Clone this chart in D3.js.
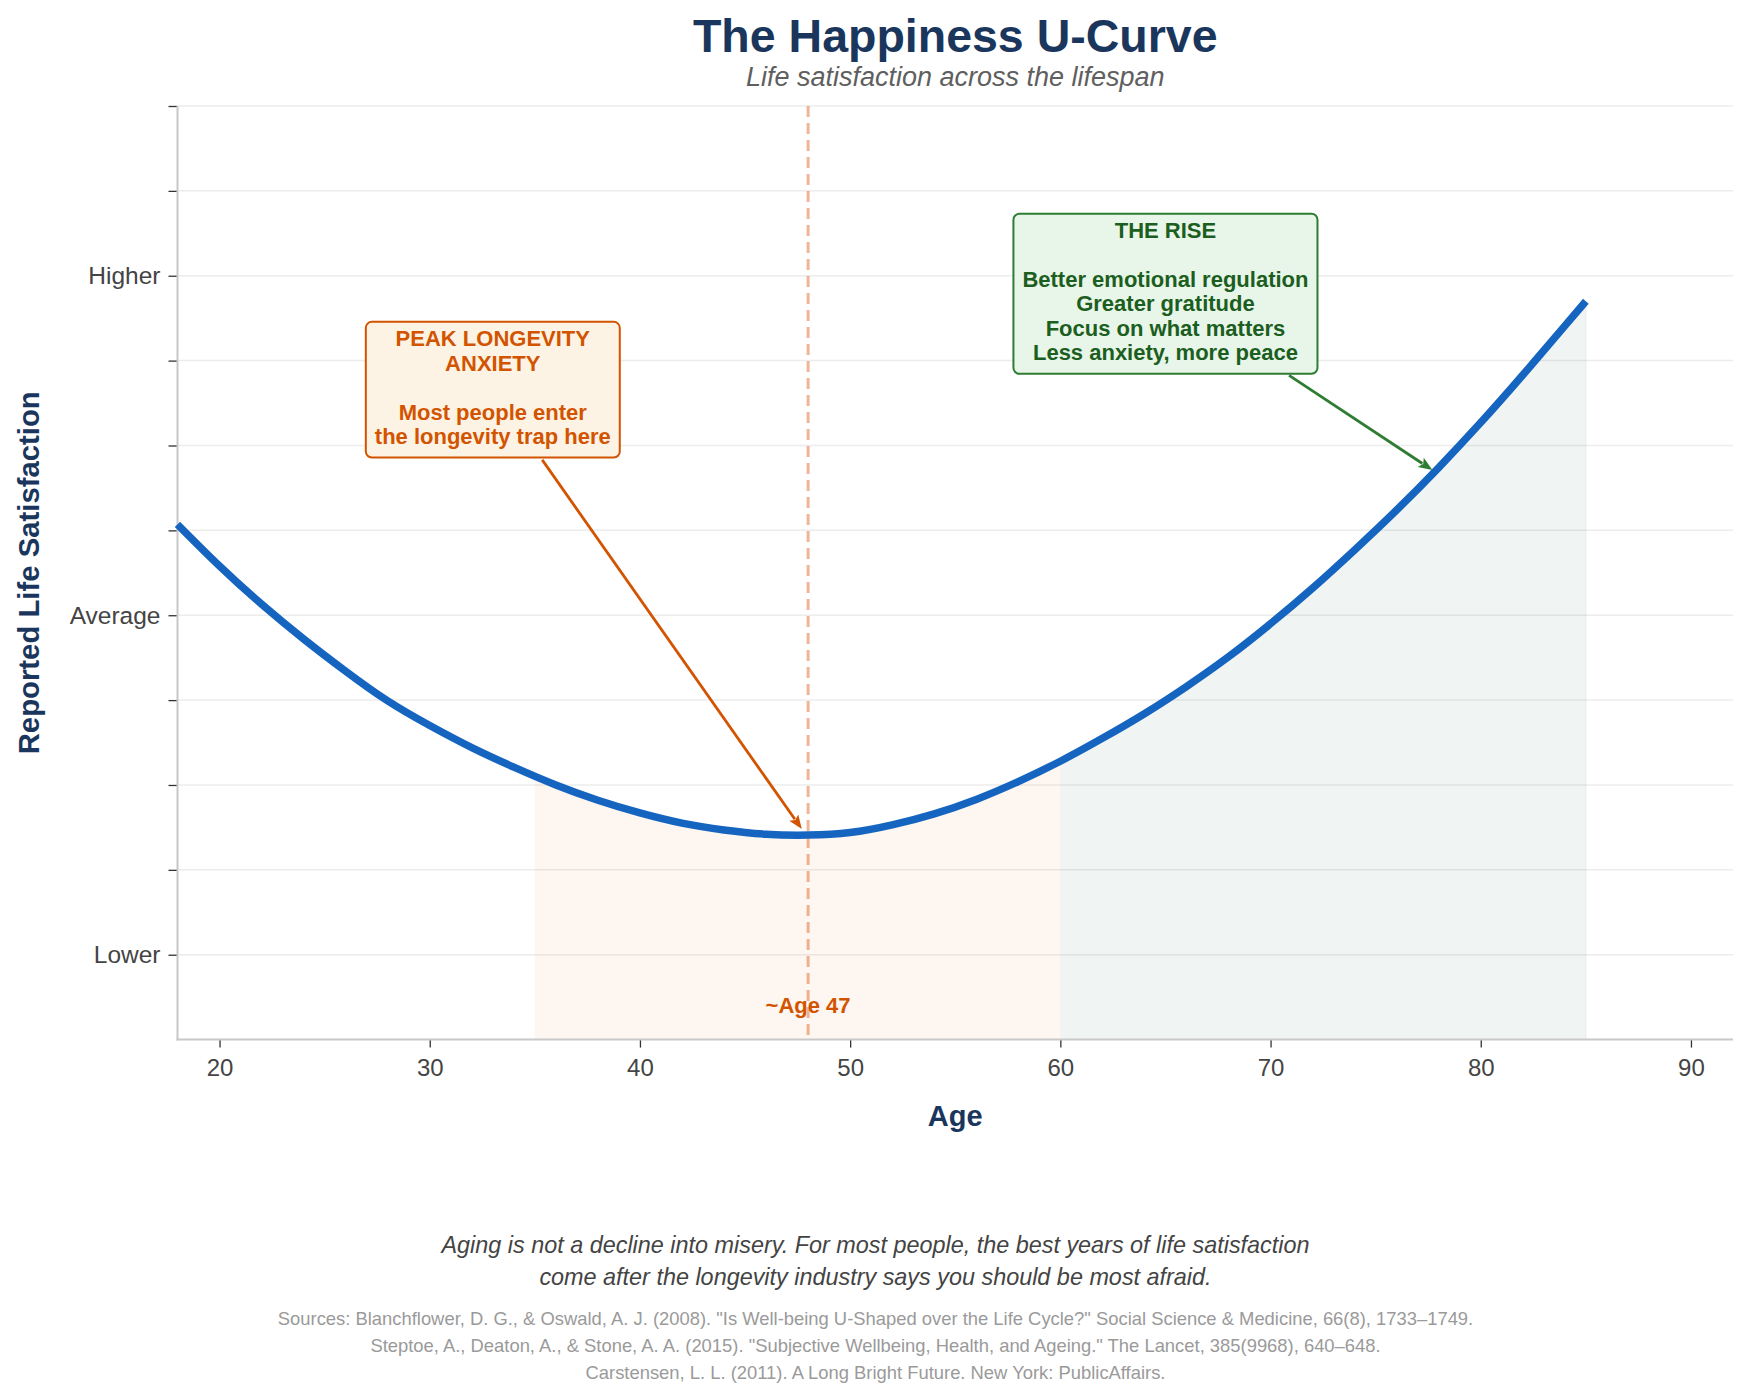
<!DOCTYPE html>
<html>
<head>
<meta charset="utf-8">
<script src="https://cdn.jsdelivr.net/npm/d3@7"></script>
<style>
  body { margin: 0; background: #ffffff; }
  svg { display: block; }
  text { font-family: "Liberation Sans", Arial, Helvetica, sans-serif; }
</style>
</head>
<body>
<svg id="chart" width="1751" height="1400"></svg>
<script>
// ---------------- DATA ----------------
const ages = [18, 20, 22, 24, 26, 28, 30, 32, 34, 36, 38, 40, 42, 44, 46, 48, 50, 52, 54, 56, 58, 60, 62, 64, 66, 68, 70, 72, 74, 76, 78, 80, 82, 84, 85];
const satisfaction = [6.07, 5.58, 5.13, 4.72, 4.34, 3.99, 3.70, 3.44, 3.21, 3.00, 2.82, 2.67, 2.55, 2.47, 2.42, 2.41, 2.44, 2.53, 2.66, 2.83, 3.04, 3.28, 3.55, 3.84, 4.16, 4.51, 4.90, 5.32, 5.77, 6.24, 6.74, 7.27, 7.83, 8.41, 8.70];

const xTicks = [20, 30, 40, 50, 60, 70, 80, 90];
const yTicks = [1, 2, 3, 4, 5, 6, 7, 8, 9, 10, 11];
const yTickLabelValues = [1, 5, 9];
const yTickLabelTexts = ["Lower", "Average", "Higher"];

const anxietyBand = [35, 60];
const riseBand = [60, 85];
const troughAge = 48;
const troughLabel = "~Age 47";

const anxietyLines = ["PEAK LONGEVITY", "ANXIETY", "", "Most people enter", "the longevity trap here"];
const anxietyTextAt = [33, 7.66];
const anxietyPointAt = [47.7, 2.48];

const riseLines = ["THE RISE", "", "Better emotional regulation", "Greater gratitude", "Focus on what matters", "Less anxiety, more peace"];
const riseTextAt = [65, 8.79];
const risePointAt = [77.7, 6.71];

const titleText = "The Happiness U-Curve";
const subtitleText = "Life satisfaction across the lifespan";
const xLabelText = "Age";
const yLabelText = "Reported Life Satisfaction";
const footerLines = [
  "Aging is not a decline into misery. For most people, the best years of life satisfaction",
  "come after the longevity industry says you should be most afraid."
];
const sourceLines = [
  "Sources: Blanchflower, D. G., & Oswald, A. J. (2008). \"Is Well-being U-Shaped over the Life Cycle?\" Social Science & Medicine, 66(8), 1733\u20131749.",
  "Steptoe, A., Deaton, A., & Stone, A. A. (2015). \"Subjective Wellbeing, Health, and Ageing.\" The Lancet, 385(9968), 640\u2013648.",
  "Carstensen, L. L. (2011). A Long Bright Future. New York: PublicAffairs."
];

// ---------------- LAYOUT ----------------
const W = 1751, H = 1400;
const plot = { left: 177.5, right: 1733, top: 106, bottom: 1039.6 };
const svg = d3.select("#chart");

const x = d3.scaleLinear().domain([18, 92]).range([plot.left, plot.right]);
const y = d3.scaleLinear().domain([0, 11]).range([plot.bottom, plot.top]);

const data = ages.map((a, i) => ({ age: a, v: satisfaction[i] }));
const curve = d3.curveNatural;

// grid
svg.append("g").selectAll("line").data(yTicks).join("line")
  .attr("x1", plot.left).attr("x2", plot.right)
  .attr("y1", d => y(d)).attr("y2", d => y(d))
  .attr("stroke", "#ececec").attr("stroke-width", 1.5);

// shaded bands under the curve
const defs = svg.append("defs");
function bandClip(id, band) {
  defs.append("clipPath").attr("id", id).append("rect")
    .attr("x", x(band[0])).attr("y", plot.top)
    .attr("width", x(band[1]) - x(band[0])).attr("height", plot.bottom - plot.top);
}
bandClip("clipAnx", anxietyBand);
bandClip("clipRise", riseBand);

const area = d3.area().x(d => x(d.age)).y0(y(0)).y1(d => y(d.v)).curve(curve);
svg.append("path").datum(data).attr("d", area)
  .attr("clip-path", "url(#clipAnx)")
  .attr("fill", "#f08a3c").attr("fill-opacity", 0.08);
svg.append("path").datum(data).attr("d", area)
  .attr("clip-path", "url(#clipRise)")
  .attr("fill", "#2e6d52").attr("fill-opacity", 0.07);
svg.append("line")
  .attr("x1", x(riseBand[1])).attr("x2", x(riseBand[1]))
  .attr("y1", y(0)).attr("y2", y(satisfaction[satisfaction.length - 1]))
  .attr("stroke", "#2e6d52").attr("stroke-opacity", 0.06).attr("stroke-width", 1.5);

// trough dashed line
svg.append("line")
  .attr("x1", x(troughAge)).attr("x2", x(troughAge))
  .attr("y1", plot.top).attr("y2", plot.bottom)
  .attr("stroke", "#e0783f").attr("stroke-opacity", 0.55)
  .attr("stroke-width", 3).attr("stroke-dasharray", "11,6");

// axes
const xAxis = d3.axisBottom(x).tickValues(xTicks).tickSize(8).tickPadding(11).tickFormat(d3.format("d"));
const gx = svg.append("g").attr("transform", `translate(0,${plot.bottom})`).call(xAxis);
gx.select(".domain").remove();
gx.selectAll(".tick line").attr("stroke", "#333").attr("stroke-width", 1.3);
gx.selectAll(".tick text").attr("font-size", 24).attr("fill", "#444")
  .attr("font-family", "'Liberation Sans', Arial, sans-serif");

const yAxis = d3.axisLeft(y).tickValues(yTicks).tickSize(9).tickPadding(8)
  .tickFormat(d => { const k = yTickLabelValues.indexOf(d); return k >= 0 ? yTickLabelTexts[k] : ""; });
const gy = svg.append("g").attr("transform", `translate(${plot.left},0)`).call(yAxis);
gy.select(".domain").remove();
gy.selectAll(".tick line").attr("stroke", "#333").attr("stroke-width", 1.3);
gy.selectAll(".tick text").attr("font-size", 24.5).attr("fill", "#444")
  .attr("font-family", "'Liberation Sans', Arial, sans-serif");

// spines
svg.append("line").attr("x1", plot.left).attr("x2", plot.left).attr("y1", plot.top).attr("y2", plot.bottom + 1)
  .attr("stroke", "#c8c8c8").attr("stroke-width", 2);
svg.append("line").attr("x1", plot.left - 1).attr("x2", plot.right).attr("y1", plot.bottom).attr("y2", plot.bottom)
  .attr("stroke", "#c8c8c8").attr("stroke-width", 2);

// main curve
const line = d3.line().x(d => x(d.age)).y(d => y(d.v)).curve(curve);
svg.append("path").datum(data).attr("d", line)
  .attr("fill", "none").attr("stroke", "#1565c0").attr("stroke-width", 7.5)
  .attr("stroke-linejoin", "round").attr("stroke-linecap", "butt");

// trough label
svg.append("text").attr("x", x(troughAge)).attr("y", y(0.4)).attr("dy", "0.35em")
  .attr("text-anchor", "middle").attr("font-size", 22).attr("font-weight", "bold")
  .attr("fill", "#d35400").text(troughLabel);

// annotations
function annotate(lines, textAt, pointAt, textColor, edgeColor, boxFill, arrowColor) {
  const g = svg.append("g");
  const cx = x(textAt[0]), cy = y(textAt[1]);
  const lh = 24.4, n = lines.length;
  const rect = g.append("rect");
  const t = g.append("text").attr("text-anchor", "middle").attr("font-size", 22)
    .attr("font-weight", "bold").attr("fill", textColor);
  lines.forEach((s, i) => {
    t.append("tspan").attr("x", cx).attr("y", cy + (i - (n - 1) / 2) * lh + 5.7).text(s === "" ? "\u00a0" : s);
  });
  const bb = t.node().getBBox();
  const bw = bb.width + 18;
  const top = cy - ((n - 1) / 2) * lh + 5.7 - 24.5;
  const bottom = cy + ((n - 1) / 2) * lh + 5.7 + 13.5;
  rect.attr("x", cx - bw / 2).attr("y", top).attr("width", bw).attr("height", bottom - top)
    .attr("rx", 6).attr("ry", 6).attr("fill", boxFill).attr("stroke", edgeColor).attr("stroke-width", 2);
  const bcy = (top + bottom) / 2;
  const px = x(pointAt[0]), py = y(pointAt[1]);
  const dx = px - cx, dy = py - bcy;
  const hw = bw / 2, hh = (bottom - top) / 2;
  const s = Math.min(hw / Math.abs(dx), hh / Math.abs(dy));
  const L = Math.hypot(dx, dy);
  const sx = cx + dx * s + dx / L * 3, sy = bcy + dy * s + dy / L * 3;
  const ang = Math.atan2(py - sy, px - sx);
  const hl = 14, hwid = 5.5;
  const bx = px - hl * Math.cos(ang), by = py - hl * Math.sin(ang);
  svg.append("line").attr("x1", sx).attr("y1", sy).attr("x2", bx + 2 * Math.cos(ang)).attr("y2", by + 2 * Math.sin(ang))
    .attr("stroke", arrowColor).attr("stroke-width", 2.8);
  const nx = -Math.sin(ang), ny = Math.cos(ang);
  svg.append("path")
    .attr("d", `M${px},${py} L${bx + nx * hwid},${by + ny * hwid} L${bx + 3 * Math.cos(ang)},${by + 3 * Math.sin(ang)} L${bx - nx * hwid},${by - ny * hwid} Z`)
    .attr("fill", arrowColor);
}
annotate(anxietyLines, anxietyTextAt, anxietyPointAt, "#d35400", "#d35400", "#fdf3e4", "#d35400");
annotate(riseLines, riseTextAt, risePointAt, "#1b5e20", "#2e7d32", "#e8f5e9", "#2e7d32");

// titles
const plotCx = (plot.left + plot.right) / 2;
svg.append("text").attr("x", plotCx).attr("y", 52).attr("text-anchor", "middle")
  .attr("font-size", 46.5).attr("font-weight", "bold").attr("fill", "#1a365d").text(titleText);
svg.append("text").attr("x", plotCx).attr("y", 86).attr("text-anchor", "middle")
  .attr("font-size", 27).attr("font-style", "italic").attr("fill", "#5f5f5f").text(subtitleText);

// axis labels
svg.append("text").attr("x", plotCx).attr("y", 1126).attr("text-anchor", "middle")
  .attr("font-size", 29).attr("font-weight", "bold").attr("fill", "#1a365d").text(xLabelText);
svg.append("text").attr("transform", `translate(39,${(plot.top + plot.bottom) / 2}) rotate(-90)`)
  .attr("text-anchor", "middle").attr("font-size", 29.3).attr("font-weight", "bold")
  .attr("fill", "#1a365d").text(yLabelText);

// footer
footerLines.forEach((s, i) => {
  svg.append("text").attr("x", W / 2).attr("y", 1252.5 + i * 32.5).attr("text-anchor", "middle")
    .attr("font-size", 23.4).attr("font-style", "italic").attr("fill", "#444").text(s);
});
sourceLines.forEach((s, i) => {
  svg.append("text").attr("x", W / 2).attr("y", 1325 + i * 26.8).attr("text-anchor", "middle")
    .attr("font-size", 18.4).attr("fill", "#9a9a9a").text(s);
});
</script>
</body>
</html>
